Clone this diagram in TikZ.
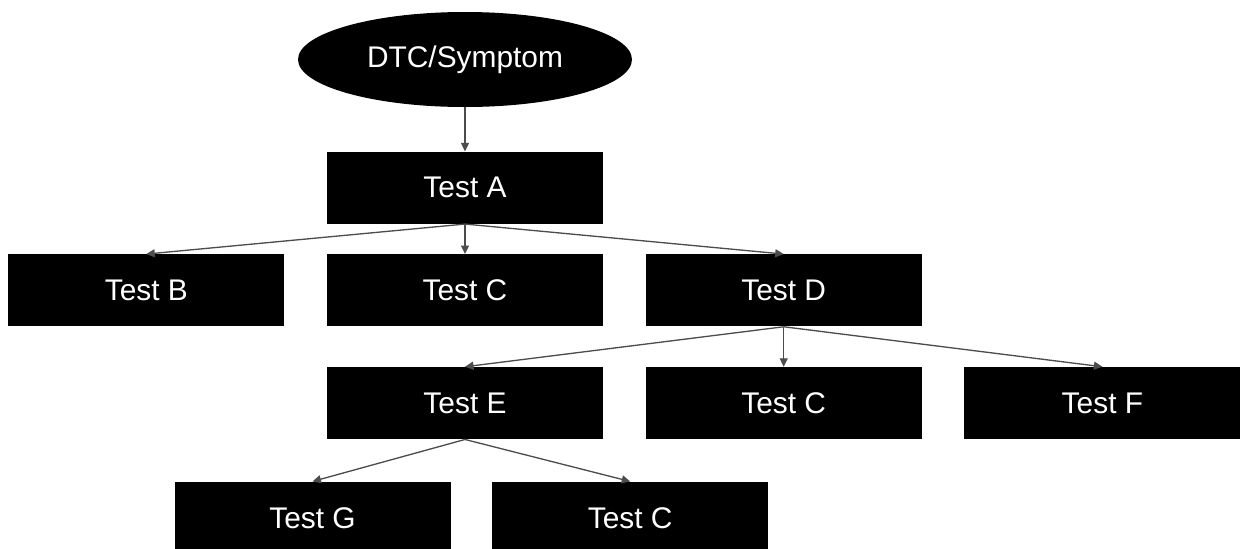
\documentclass[tikz,border=0pt]{standalone}
\usepackage{fontspec}
\setmainfont{Liberation Sans}
\usepackage{tikz}
\usetikzlibrary{arrows.meta,positioning,shapes.geometric}

\begin{document}
\begin{tikzpicture}[
  font=\fontsize{17}{20}\selectfont,
  node distance=0.6cm and 0.84cm,
  test/.style={rectangle, fill=black, text=white, inner sep=0pt,
               minimum width=5.52cm, minimum height=1.44cm},
  start/.style={ellipse, fill=black, text=white, inner sep=0pt,
                minimum width=6.68cm, minimum height=1.9cm},
  arrow/.style={-{Triangle[length=1.7mm, width=1.6mm]}, draw=black!70, line width=0.75pt}
]
\useasboundingbox (0,0) rectangle (24.84,-10.96);

\node[start] (symptom) at (9.30,-1.19) {DTC/Symptom};
\node[test, below=0.88cm of symptom] (testA) {Test A};
\node[test, below=of testA] (testC1) {Test C};
\node[test, left=of testC1] (testB) {Test B};
\node[test, right=of testC1] (testD) {Test D};
\node[test, below=0.8cm of testC1] (testE) {Test E};
\node[test, below=0.8cm of testD] (testC2) {Test C};
\node[test, right=of testC2] (testF) {Test F};
\node[test, below=0.84cm of testE, xshift=-3.05cm] (testG) {Test G};
\node[test, right=0.82cm of testG] (testC3) {Test C};

\draw[arrow] (symptom) -- (testA);
\draw[arrow] (testA.south) -- (testB.north);
\draw[arrow] (testA.south) -- (testC1.north);
\draw[arrow] (testA.south) -- (testD.north);
\draw[arrow] (testD.south) -- (testE.north);
\draw[arrow] (testD.south) -- (testC2.north);
\draw[arrow] (testD.south) -- (testF.north);
\draw[arrow] (testE.south) -- (testG.north);
\draw[arrow] (testE.south) -- (testC3.north);
\end{tikzpicture}
\end{document}
